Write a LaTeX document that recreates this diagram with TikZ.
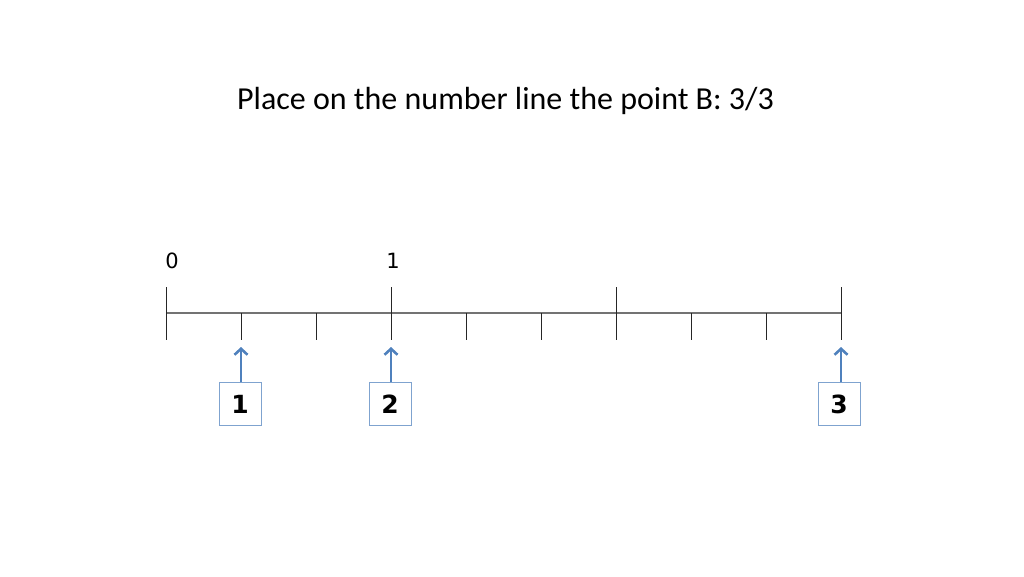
\documentclass[tikz,border=0pt]{standalone}
\usepackage{fontspec}
\setmainfont{Carlito}
\newfontfamily\digfont{DejaVu Sans}
\usetikzlibrary{arrows.meta}
\definecolor{arrowblue}{HTML}{4F81BD}
\definecolor{boxblue}{HTML}{7FA3CF}
\begin{document}
\begin{tikzpicture}[x=1pt,y=-1pt,
  tick/.style={draw=black!85,line width=0.9pt},
  axis/.style={draw=black!55,line width=1.5pt},
  numbox/.style={draw=boxblue,line width=0.8pt,minimum width=42pt,minimum height=43pt,inner sep=0pt,font=\digfont\fontsize{25}{27}\selectfont\bfseries},
  uparrow/.style={draw=arrowblue,line width=2.6pt,-{Straight Barb[length=6pt,width=13pt]}},
  lbl/.style={font=\digfont\fontsize{21}{23}\selectfont,inner sep=0pt}]
\useasboundingbox (0,0) rectangle (1024,576);
\node[font=\fontsize{32}{36}\selectfont,inner sep=0pt] (title) at (505.5,101) {Place on the number line the point B: 3/3};
\coordinate (L) at (166,313);
\coordinate (R) at (842,313);
\draw[axis] (L) -- (R);
\foreach \i in {1,2,4,5,7,8} {
  \draw[tick] (166+75*\i,313) -- (166+75*\i,340);
}
\foreach \i in {0,3,6,9} {
  \draw[tick] (166+75*\i,287) -- (166+75*\i,340);
}
\node[lbl] (z) at (172,261) {0};
\node[lbl] (o) at (393,261) {1};
\node[numbox] (b1) at (240,404) {1};
\node[numbox] (b2) at (390,404) {2};
\node[numbox] (b3) at (839,404) {3};
\coordinate (t1) at (241,347);
\coordinate (t2) at (391,347);
\coordinate (t3) at (841,347);
\draw[uparrow] (b1.north -| t1) -- (t1);
\draw[uparrow] (b2.north -| t2) -- (t2);
\draw[uparrow] (b3.north -| t3) -- (t3);
\end{tikzpicture}
\end{document}
